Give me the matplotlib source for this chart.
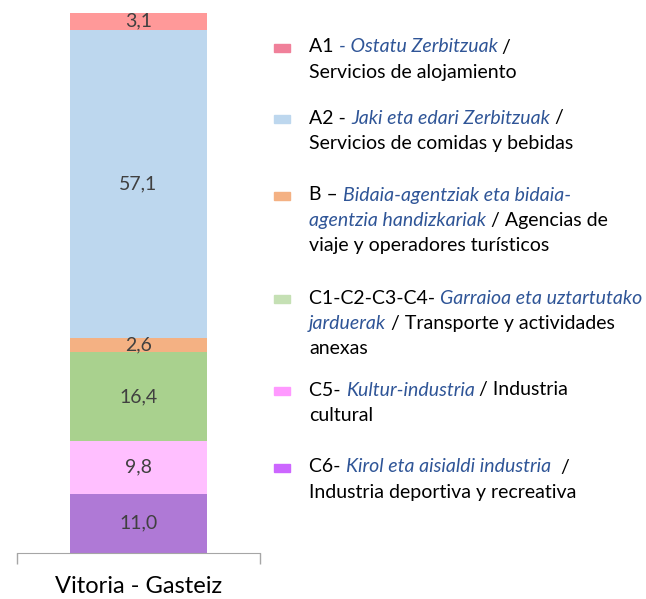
import matplotlib
matplotlib.use("Agg")
import matplotlib.pyplot as plt

# Data (stacked from bottom to top)
city = "Vitoria - Gasteiz"
segments = ["C6", "C5", "C1-C2-C3-C4", "B", "A2", "A1"]
values = [11.0, 9.8, 16.4, 2.6, 57.1, 3.1]
bar_colors = ["#af79d6", "#ffbfff", "#a9d18e", "#f4b183", "#bdd7ee", "#ff9999"]

# Legend entries, top to bottom: (marker colour, lines of (text, italic?))
legend_colors = ["#f0809a", "#bdd7ee", "#f4b183", "#c5e0b4", "#ff99ff", "#cc66ff"]
legend_lines = [
    [[("A1 ", False), ("- Ostatu Zerbitzuak", True), (" /", False)],
     [("Servicios de alojamiento", False)]],
    [[("A2 - ", False), ("Jaki eta edari Zerbitzuak", True), (" /", False)],
     [("Servicios de comidas y bebidas", False)]],
    [[("B – ", False), ("Bidaia-agentziak eta bidaia-", True)],
     [("agentzia handizkariak", True), (" / Agencias de", False)],
     [("viaje y operadores turísticos", False)]],
    [[("C1-C2-C3-C4- ", False), ("Garraioa eta uztartutako", True)],
     [("jarduerak", True), (" / Transporte y actividades", False)],
     [("anexas", False)]],
    [[("C5- ", False), ("Kultur-industria", True), (" / Industria", False)],
     [("cultural", False)]],
    [[("C6- ", False), ("Kirol eta aisialdi industria", True), ("  /", False)],
     [("Industria deportiva y recreativa", False)]],
]
legend_top = [47, 118, 195, 298, 390, 467]

W, H = 646, 599
FONT = "Lato"
FS = 14
fig = plt.figure(figsize=(W / 100, H / 100), dpi=100)
ax = fig.add_axes([17 / W, 1 - 553 / H, 243 / W, 540 / H])

bottom = 0
for val, col in zip(values, bar_colors):
    ax.bar(0, val, width=0.564, bottom=bottom, color=col, linewidth=0)
    ax.text(0, bottom + val / 2, f"{val:.1f}".replace(".", ","),
            ha="center", va="center", fontsize=14, color="#404040", family=FONT)
    bottom += val

ax.set_xlim(-0.5, 0.5)
ax.set_ylim(0, 100)
for side in ["top", "right", "left"]:
    ax.spines[side].set_visible(False)
ax.spines["bottom"].set_color("#a6a6a6")
ax.set_yticks([])
ax.set_xticks([-0.5, 0.5])
ax.set_xticklabels([])
ax.tick_params(axis="x", direction="out", length=8, color="#a6a6a6", width=1)
ax.text(0, -6.2, city, ha="center", va="center", fontsize=17, family=FONT,
        color="#000000", transform=ax.transData, clip_on=False)

# Legend with mixed styles
renderer = fig.canvas.get_renderer()


def width_of(s, italic):
    style = "italic" if italic else "normal"
    t1 = fig.text(0, 0, s + "|", fontsize=FS, family=FONT, style=style)
    t2 = fig.text(0, 0, "|", fontsize=FS, family=FONT, style=style)
    w = t1.get_window_extent(renderer).width - t2.get_window_extent(renderer).width
    t1.remove()
    t2.remove()
    return w


text_x = 309
line_h = 25.5
for col, lines, y0 in zip(legend_colors, legend_lines, legend_top):
    fig.patches.append(plt.Rectangle((274 / W, 1 - (y0 + 5) / H), 16 / W, 8 / H,
                                     transform=fig.transFigure, color=col))
    for i, line in enumerate(lines):
        x = text_x
        y = y0 + i * line_h
        for s, italic in line:
            fig.text(x / W, 1 - y / H, s, fontsize=FS, family=FONT,
                     style="italic" if italic else "normal",
                     color="#2f5597" if italic else "#000000",
                     va="center", ha="left")
            x += width_of(s, italic)

fig.savefig("out.png", dpi=100)
